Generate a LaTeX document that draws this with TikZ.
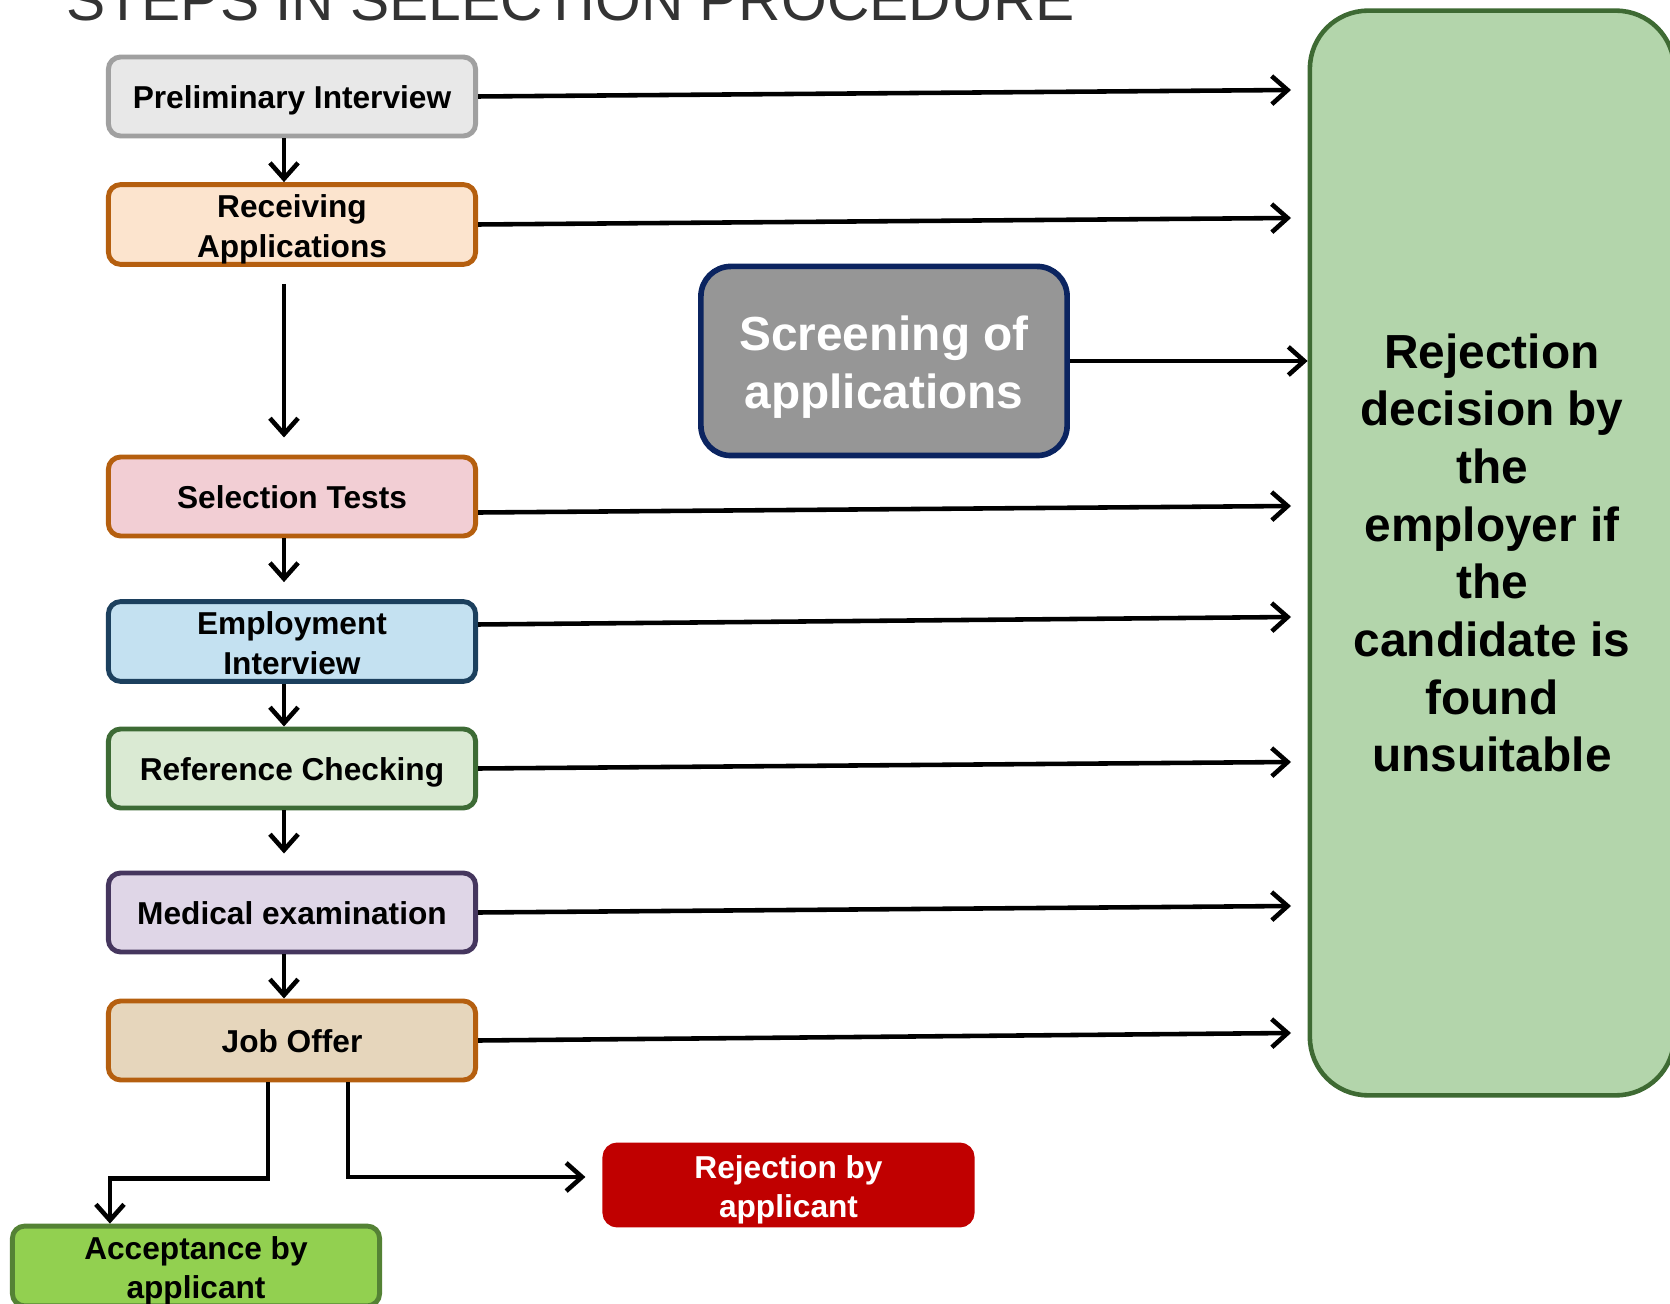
\documentclass[tikz,border=0pt]{standalone}
\usepackage{fontspec}
\setmainfont{Liberation Sans}
\usetikzlibrary{arrows.meta}
\definecolor{titleGray}{RGB}{51,51,51}
\definecolor{prelimFill}{RGB}{232,232,232}
\definecolor{prelimLine}{RGB}{160,160,160}
\definecolor{rustLine}{RGB}{181,95,15}
\definecolor{receiveFill}{RGB}{252,228,206}
\definecolor{testFill}{RGB}{242,206,212}
\definecolor{interviewFill}{RGB}{196,225,241}
\definecolor{interviewLine}{RGB}{28,64,94}
\definecolor{refFill}{RGB}{218,234,211}
\definecolor{refLine}{RGB}{61,107,53}
\definecolor{medFill}{RGB}{223,214,231}
\definecolor{medLine}{RGB}{69,54,94}
\definecolor{offerFill}{RGB}{230,214,188}
\definecolor{screenFill}{RGB}{150,150,150}
\definecolor{screenLine}{RGB}{11,36,96}
\definecolor{decideFill}{RGB}{179,213,171}
\definecolor{decideLine}{RGB}{62,106,51}
\definecolor{rejectRed}{RGB}{192,0,0}
\definecolor{acceptFill}{RGB}{146,208,80}
\definecolor{acceptLine}{RGB}{84,130,53}

\begin{document}
\begin{tikzpicture}[x=0.01cm, y=-0.01cm]
    % Styles
    \tikzstyle{stage} = [rectangle, line width=1.4pt, rounded corners=3.5pt, minimum width=3.67cm, minimum height=0.79cm, inner sep=0pt, align=center, font=\fontsize{9}{11.2}\selectfont\bfseries, text height=8.7pt, text depth=2pt]
    \tikzstyle{twoline} = [text height=20.7pt, text depth=2pt]
    \tikzstyle{screen} = [rectangle, draw=screenLine, fill=screenFill, line width=1.6pt, rounded corners=8.5pt, minimum width=3.66cm, minimum height=1.89cm, inner sep=0pt, align=center, text=white, font=\fontsize{13.6}{16.5}\selectfont\bfseries, text height=30.1pt, text depth=3pt]
    \tikzstyle{decide} = [rectangle, draw=decideLine, fill=decideFill, line width=1.3pt, rounded corners=16.5pt, minimum width=3.64cm, minimum height=10.84cm, align=center, font=\fontsize{13.6}{16.4}\selectfont\bfseries]
    \tikzstyle{arrow} = [-{Straight Barb[length=4.5pt, width=8pt]}, line width=1.3pt, black]

    \useasboundingbox (0,0) rectangle (1670,1304);

    % Title
    \node[anchor=base west, inner sep=0pt, text=titleGray, font=\fontsize{16.7}{20}\selectfont] (title) at (66,21) {STEPS IN SELECTION PROCEDURE};

    % Steps - explicit coordinates
    \node[stage, draw=prelimLine, fill=prelimFill] (pi) at (292,96.5) {Preliminary Interview};
    \node[stage, twoline, draw=rustLine, fill=receiveFill] (ra) at (292,224.5) {Receiving\\Applications};
    \node[stage, draw=rustLine, fill=testFill] (st) at (292,496.5) {Selection Tests};
    \node[stage, twoline, draw=interviewLine, fill=interviewFill] (ei) at (292,641.5) {Employment\\Interview};
    \node[stage, draw=refLine, fill=refFill] (rc) at (292,768.5) {Reference Checking};
    \node[stage, draw=medLine, fill=medFill] (me) at (292,912.5) {Medical examination};
    \node[stage, draw=rustLine, fill=offerFill] (jo) at (292,1040.5) {Job Offer};

    % Outcomes
    \node[stage, twoline, draw=acceptLine, fill=acceptFill] (acc) at (196,1266) {Acceptance by\\applicant};
    \node[stage, twoline, draw=rejectRed, fill=rejectRed, text=white, minimum width=3.67cm, minimum height=0.80cm] (rej) at (788.5,1185) {Rejection by\\applicant};

    % Screening and rejection decision
    \node[screen] (scr) at (884,361) {Screening of\\applications};
    \node[decide] (dec) at (1492,553) {Rejection\\decision by\\the\\employer if\\the\\candidate is\\found\\unsuitable};

    % Arrow ends in front of the decision box
    \coordinate (epi) at (1291,90);
    \coordinate (era) at (1291,218);
    \coordinate (est) at (1291,506);
    \coordinate (eei) at (1291,617);
    \coordinate (erc) at (1291,762);
    \coordinate (eme) at (1291,906);
    \coordinate (ejo) at (1291,1033);

    % Down arrows
    \draw[arrow] ([xshift=-0.08cm]pi.south) -- ([xshift=-0.08cm]ra.north);
    \draw[arrow, shorten <=0.17cm, shorten >=0.17cm] ([xshift=-0.08cm]ra.south) -- ([xshift=-0.08cm]st.north);
    \draw[arrow, shorten >=0.17cm] ([xshift=-0.08cm]st.south) -- ([xshift=-0.08cm]ei.north);
    \draw[arrow] ([xshift=-0.08cm]ei.south) -- ([xshift=-0.08cm]rc.north);
    \draw[arrow, shorten >=0.17cm] ([xshift=-0.08cm]rc.south) -- ([xshift=-0.08cm]me.north);
    \draw[arrow] ([xshift=-0.08cm]me.south) -- ([xshift=-0.08cm]jo.north);

    % Arrows to the decision box
    \draw[arrow] (pi.east) -- (epi);
    \draw[arrow] (ra.east) -- (era);
    \draw[arrow] ([yshift=-0.16cm]st.east) -- (est);
    \draw[arrow] ([yshift=0.17cm]ei.east) -- (eei);
    \draw[arrow] (rc.east) -- (erc);
    \draw[arrow] (me.east) -- (eme);
    \draw[arrow] (jo.east) -- (ejo);
    \draw[arrow] (scr.east) -- (scr.east -| dec.west);

    % Job offer split
    \draw[arrow] ([xshift=-0.24cm]jo.south) -- ++(0,96) -| ([xshift=-0.86cm]acc.north);
    \draw[arrow, shorten >=0.17cm] ([xshift=0.56cm]jo.south) |- ([yshift=0.08cm]rej.west);
\end{tikzpicture}
\end{document}
